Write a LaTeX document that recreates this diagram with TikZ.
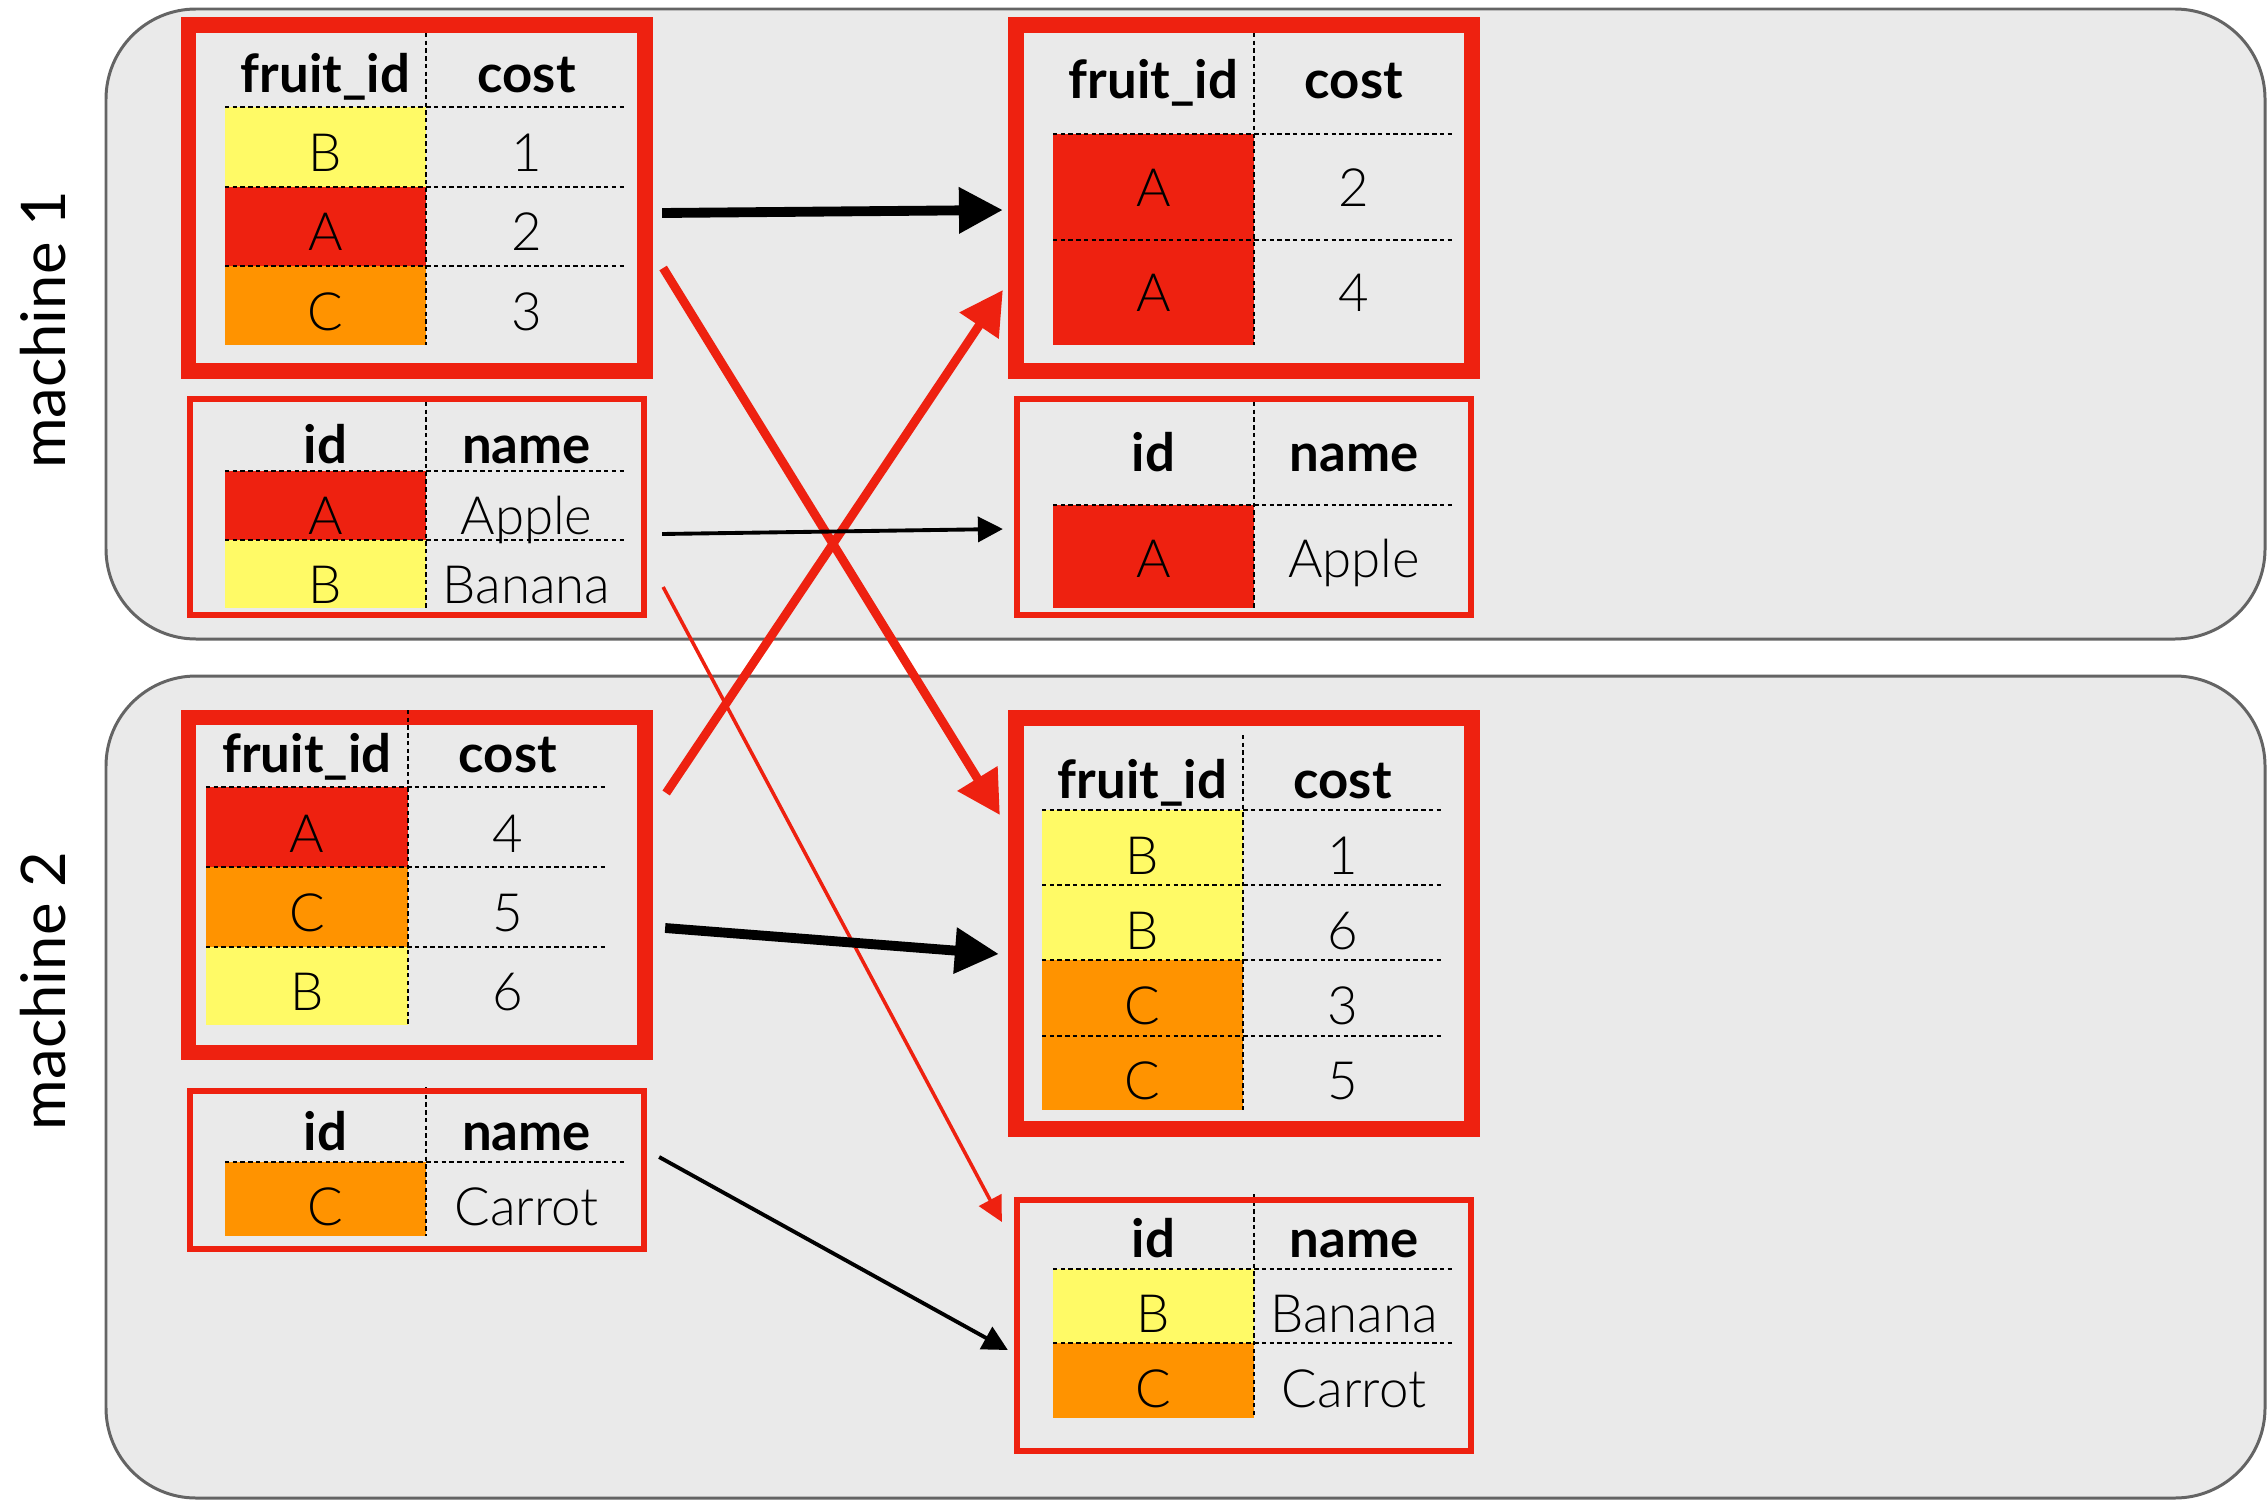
\documentclass[tikz,border=0pt]{standalone}
\usepackage{fontspec}
\setmainfont{Lato}
\IfFontExistsTF{Lato Light}{\newfontfamily\thinfont{Lato Light}}{\newfontfamily\thinfont{Lato}}
\usetikzlibrary{arrows.meta}
\definecolor{boxred}{RGB}{238,33,16}
\definecolor{cellyellow}{RGB}{255,250,102}
\definecolor{cellorange}{RGB}{255,147,0}
\definecolor{panelgray}{RGB}{234,234,234}
\definecolor{panelline}{RGB}{100,100,100}

\begin{document}
\begin{tikzpicture}[x=0.01cm,y=-0.01cm,
  panel/.style={fill=panelgray,draw=panelline,line width=0.85pt,rounded corners=0.9cm},
  bigframe/.style={draw=boxred,line width=4.4pt,outer sep=0,inner sep=0},
  smallframe/.style={draw=boxred,line width=1.7pt,outer sep=0,inner sep=0},
  sep/.style={line width=0.6pt,dash pattern=on 1.25pt off 0.95pt},
  head/.style={anchor=base,inner sep=0,font=\fontsize{15}{18}\selectfont\bfseries},
  val/.style={anchor=base,inner sep=0,font=\fontsize{15}{18}\selectfont\thinfont},
  machine/.style={rotate=90,inner sep=0,font=\fontsize{17.5}{21}\selectfont},
  fatarrow/.style={-{Triangle[length=12.5pt,width=12.5pt]},line width=2.8pt},
  slimarrow/.style={-{Triangle[length=7.1pt,width=7.1pt]},line width=1.1pt}]
\useasboundingbox (0,0) rectangle (2267,1500);
\path[panel] (106,9) rectangle (2265,639);
\path[panel] (106,676) rectangle (2265,1498);
\node[machine] (lab1) at (43,330) {machine 1};
\node[machine] (lab2) at (43,991) {machine 2};

\begin{scope}
\fill[cellyellow] (225,107) rectangle (426,187);
\fill[boxred] (225,187) rectangle (426,266);
\fill[cellorange] (225,266) rectangle (426,345);
\path[draw,sep] (426,33) -- (426,345);
\path[draw,sep] (225,107) -- (627,107);
\path[draw,sep] (225,187) -- (627,187);
\path[draw,sep] (225,266) -- (627,266);
\node[bigframe,minimum width=4.565cm,minimum height=3.46cm] (lf1) at (416.75,198) {};
\node[head] (lf1h1) at (325.5,93) {fruit\_id};
\node[head] (lf1h2) at (526.5,93) {cost};
\node[val] (lf1a) at (325.5,172) {B};
\node[val] (lf1b) at (526.5,172) {1};
\node[val] (lf1c) at (325.5,251) {A};
\node[val] (lf1d) at (526.5,251) {2};
\node[val] (lf1e) at (325.5,330) {C};
\node[val] (lf1f) at (526.5,330) {3};
\end{scope}

\begin{scope}
\fill[boxred] (225,471) rectangle (426,540);
\fill[cellyellow] (225,540) rectangle (426,608);
\path[draw,sep] (426,402) -- (426,608);
\path[draw,sep] (225,471) -- (627,471);
\path[draw,sep] (225,540) -- (627,540);
\node[smallframe,minimum width=4.54cm,minimum height=2.16cm] (ln1) at (417,507) {};
\node[head] (ln1h1) at (325.5,463) {id};
\node[head] (ln1h2) at (526.5,463) {name};
\node[val] (ln1a) at (325.5,534) {A};
\node[val] (ln1b) at (526.5,534) {Apple};
\node[val] (ln1c) at (325.5,603) {B};
\node[val] (ln1d) at (526.5,603) {Banana};
\end{scope}

\begin{scope}
\fill[boxred] (1053,134) rectangle (1254,345);
\path[draw,sep] (1254,33) -- (1254,345);
\path[draw,sep] (1053,134) -- (1454,134);
\path[draw,sep] (1053,240) -- (1454,240);
\node[bigframe,minimum width=4.56cm,minimum height=3.46cm] (rf1) at (1244,198) {};
\node[head] (rf1h1) at (1153.5,99) {fruit\_id};
\node[head] (rf1h2) at (1354,99) {cost};
\node[val] (rf1a) at (1153.5,206) {A};
\node[val] (rf1b) at (1354,206) {2};
\node[val] (rf1c) at (1153.5,311) {A};
\node[val] (rf1d) at (1354,311) {4};
\end{scope}

\begin{scope}
\fill[boxred] (1053,505) rectangle (1254,608);
\path[draw,sep] (1254,402) -- (1254,608);
\path[draw,sep] (1053,505) -- (1454,505);
\node[smallframe,minimum width=4.54cm,minimum height=2.16cm] (rn1) at (1244,507) {};
\node[head] (rn1h1) at (1153.5,471) {id};
\node[head] (rn1h2) at (1354,471) {name};
\node[val] (rn1a) at (1153.5,577) {A};
\node[val] (rn1b) at (1354,577) {Apple};
\end{scope}

\begin{scope}
\fill[boxred] (206,787) rectangle (408,867);
\fill[cellorange] (206,867) rectangle (408,947);
\fill[cellyellow] (206,947) rectangle (408,1025);
\node[bigframe,minimum width=4.565cm,minimum height=3.35cm] (lf2) at (416.75,885) {};
\path[draw,sep] (408,710) -- (408,1025);
\path[draw,sep] (206,787) -- (608,787);
\path[draw,sep] (206,867) -- (608,867);
\path[draw,sep] (206,947) -- (608,947);
\node[head] (lf2h1) at (307,772) {fruit\_id};
\node[head] (lf2h2) at (508,772) {cost};
\node[val] (lf2a) at (307,852) {A};
\node[val] (lf2b) at (508,852) {4};
\node[val] (lf2c) at (307,931) {C};
\node[val] (lf2d) at (508,931) {5};
\node[val] (lf2e) at (307,1010) {B};
\node[val] (lf2f) at (508,1010) {6};
\end{scope}

\begin{scope}
\fill[cellorange] (225,1162) rectangle (426,1236);
\path[draw,sep] (426,1087) -- (426,1236);
\path[draw,sep] (225,1162) -- (627,1162);
\node[smallframe,minimum width=4.54cm,minimum height=1.58cm] (ln2) at (417,1170) {};
\node[head] (ln2h1) at (325.5,1150) {id};
\node[head] (ln2h2) at (526.5,1150) {name};
\node[val] (ln2a) at (325.5,1225) {C};
\node[val] (ln2b) at (526.5,1225) {Carrot};
\end{scope}

\begin{scope}
\fill[cellyellow] (1042,810) rectangle (1243,960);
\fill[cellorange] (1042,960) rectangle (1243,1110);
\path[draw,sep] (1243,735) -- (1243,1110);
\path[draw,sep] (1042,810) -- (1442,810);
\path[draw,sep] (1042,885) -- (1442,885);
\path[draw,sep] (1042,960) -- (1442,960);
\path[draw,sep] (1042,1036) -- (1442,1036);
\node[bigframe,minimum width=4.56cm,minimum height=4.11cm] (rf2) at (1244,923.5) {};
\node[head] (rf2h1) at (1142.5,798) {fruit\_id};
\node[head] (rf2h2) at (1342.5,798) {cost};
\node[val] (rf2a) at (1142.5,874) {B};
\node[val] (rf2b) at (1342.5,874) {1};
\node[val] (rf2c) at (1142.5,949) {B};
\node[val] (rf2d) at (1342.5,949) {6};
\node[val] (rf2e) at (1142.5,1024) {C};
\node[val] (rf2f) at (1342.5,1024) {3};
\node[val] (rf2g) at (1142.5,1099) {C};
\node[val] (rf2h) at (1342.5,1099) {5};
\end{scope}

\begin{scope}
\fill[cellyellow] (1053,1269) rectangle (1254,1343);
\fill[cellorange] (1053,1343) rectangle (1254,1418);
\path[draw,sep] (1254,1194) -- (1254,1418);
\path[draw,sep] (1053,1269) -- (1454,1269);
\path[draw,sep] (1053,1343) -- (1454,1343);
\node[smallframe,minimum width=4.54cm,minimum height=2.51cm] (rn2) at (1244,1325.5) {};
\node[head] (rn2h1) at (1153.5,1257) {id};
\node[head] (rn2h2) at (1354,1257) {name};
\node[val] (rn2a) at (1153.5,1332) {B};
\node[val] (rn2b) at (1354,1332) {Banana};
\node[val] (rn2c) at (1153.5,1407) {C};
\node[val] (rn2d) at (1354,1407) {Carrot};
\end{scope}

\path[draw,boxred,fatarrow,line width=2.5pt,-{Triangle[length=12.2pt,width=12.8pt]}] ([shift={(18,70)}]lf1.east) -- ([shift={(-16,-108.5)}]rf2.west);
\path[draw,boxred,fatarrow,line width=2.5pt,-{Triangle[length=12.2pt,width=12.8pt]}] ([shift={(21,-92)}]lf2.east) -- ([shift={(-13,92)}]rf1.west);
\path[draw,boxred,slimarrow,line width=1pt] ([shift={(19,80)}]ln1.east) -- ([shift={(-15,-103.5)}]rn2.west);
\path[draw,fatarrow] ([shift={(17,15)}]lf1.east) -- ([shift={(-13,12)}]rf1.west);
\path[draw,slimarrow] ([shift={(18,27)}]ln1.east) -- ([shift={(-14,22)}]rn1.west);
\path[draw,fatarrow] ([shift={(20,43)}]lf2.east) -- ([shift={(-17,30.5)}]rf2.west);
\path[draw,slimarrow] ([shift={(15,-13)}]ln2.east) -- ([shift={(-9,24.5)}]rn2.west);
\end{tikzpicture}
\end{document}
